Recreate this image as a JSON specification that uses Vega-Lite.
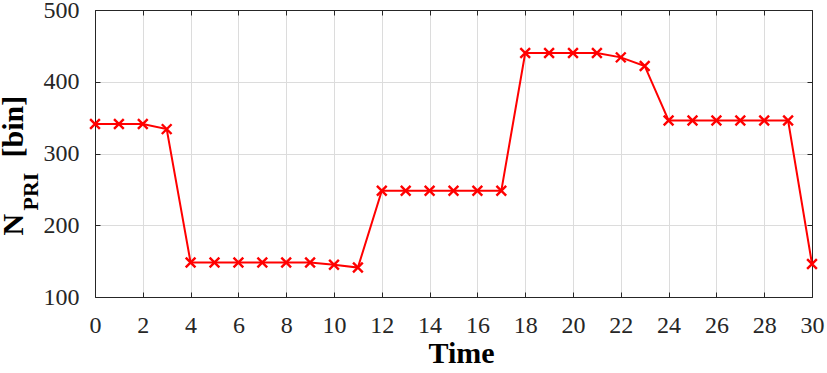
{
  "$schema": "https://vega.github.io/schema/vega-lite/v6.json",
  "autosize": {"type": "none"},
  "width": 717,
  "height": 287,
  "padding": {"left": 95, "top": 10, "right": 15, "bottom": 76},
  "background": "white",
  "config": {
    "view": {"stroke": null},
    "font": "Liberation Serif",
    "axis": {
      "labelFont": "Liberation Serif",
      "labelFontSize": 24,
      "labelColor": "#262626",
      "titleFont": "Liberation Serif",
      "titleFontWeight": "bold",
      "titleColor": "#000000",
      "tickColor": "#262626",
      "tickWidth": 1,
      "tickSize": -5,
      "domainColor": "#262626",
      "domainWidth": 1,
      "gridColor": "#dcdcdc",
      "gridWidth": 1,
      "labelFlush": false,
      "labelOverlap": false,
      "labelBound": false
    }
  },
  "data": {
    "values": [
      {"t": 0, "n": 341}, {"t": 1, "n": 341}, {"t": 2, "n": 341}, {"t": 3, "n": 334},
      {"t": 4, "n": 148}, {"t": 5, "n": 148}, {"t": 6, "n": 148}, {"t": 7, "n": 148},
      {"t": 8, "n": 148}, {"t": 9, "n": 148}, {"t": 10, "n": 145}, {"t": 11, "n": 141},
      {"t": 12, "n": 248}, {"t": 13, "n": 248}, {"t": 14, "n": 248}, {"t": 15, "n": 248},
      {"t": 16, "n": 248}, {"t": 17, "n": 248}, {"t": 18, "n": 440}, {"t": 19, "n": 440},
      {"t": 20, "n": 440}, {"t": 21, "n": 440}, {"t": 22, "n": 434}, {"t": 23, "n": 422},
      {"t": 24, "n": 346}, {"t": 25, "n": 346}, {"t": 26, "n": 346}, {"t": 27, "n": 346},
      {"t": 28, "n": 346}, {"t": 29, "n": 346}, {"t": 30, "n": 146}
    ]
  },
  "resolve": {"axis": {"x": "independent", "y": "independent"}},
  "layer": [
    {
      "mark": {"type": "line", "color": "#ff0000", "strokeWidth": 2},
      "encoding": {
        "x": {
          "field": "t", "type": "quantitative",
          "scale": {"domain": [0, 30], "nice": false, "zero": false},
          "axis": {
            "orient": "bottom",
            "values": [0, 2, 4, 6, 8, 10, 12, 14, 16, 18, 20, 22, 24, 26, 28, 30],
            "grid": true,
            "labelFont": "Liberation Serif",
            "labelFontSize": 24,
            "labelPadding": 21,
            "title": "Time",
            "titleFontSize": 30,
            "titleAngle": 0,
            "titleAlign": "center",
            "titleBaseline": "alphabetic",
            "titleX": 366,
            "titleY": 65
          }
        },
        "y": {
          "field": "n", "type": "quantitative",
          "scale": {"domain": [100, 500], "nice": false, "zero": false},
          "axis": {
            "orient": "left",
            "values": [100, 200, 300, 400, 500],
            "grid": true,
            "labelFont": "Liberation Serif",
            "labelFontSize": 24,
            "labelPadding": 21,
            "title": "N",
            "titleFontSize": 30,
            "titleAngle": -90,
            "titleAlign": "left",
            "titleBaseline": "alphabetic",
            "titleX": -73,
            "titleY": 225
          }
        }
      }
    },
    {
      "mark": {
        "type": "point",
        "shape": "M-1,-1L1,1M-1,1L1,-1",
        "filled": false,
        "color": "#ff0000",
        "strokeWidth": 2.4,
        "size": 95,
        "opacity": 1
      },
      "encoding": {
        "x": {
          "field": "t", "type": "quantitative",
          "axis": {
            "orient": "top",
            "values": [0, 2, 4, 6, 8, 10, 12, 14, 16, 18, 20, 22, 24, 26, 28, 30],
            "grid": false,
            "labels": false,
            "title": "[bin]",
            "titleFontSize": 30,
            "titleAngle": -90,
            "titleAlign": "left",
            "titleBaseline": "alphabetic",
            "titleX": -73,
            "titleY": 147
          }
        },
        "y": {
          "field": "n", "type": "quantitative",
          "axis": {
            "orient": "right",
            "values": [100, 200, 300, 400, 500],
            "grid": false,
            "labels": false,
            "title": "PRI",
            "titleFontSize": 22,
            "titleAngle": -90,
            "titleAlign": "left",
            "titleBaseline": "alphabetic",
            "titleX": -775,
            "titleY": 200
          }
        }
      }
    }
  ]
}
